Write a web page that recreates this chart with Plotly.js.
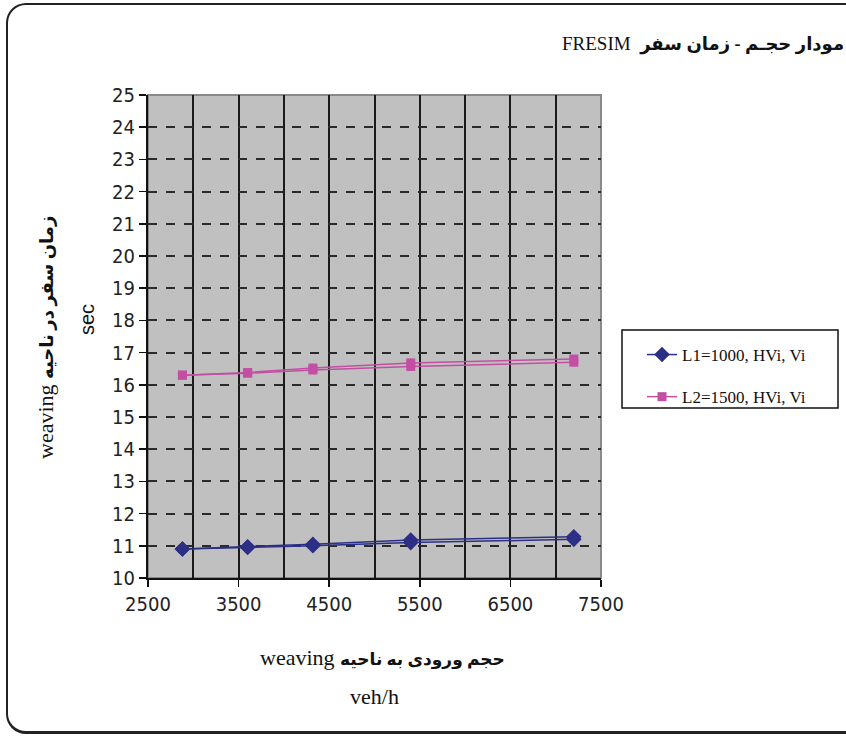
<!DOCTYPE html>
<html>
<head>
<meta charset="utf-8">
<script src="https://cdn.plot.ly/plotly-3.0.1.min.js"></script>
<style>
  html, body { margin: 0; padding: 0; background: #ffffff; overflow: hidden; }
  #wrap { position: relative; width: 846px; height: 740px; overflow: hidden; }
  #frame { position: absolute; left: 6px; top: 3px; width: 870px; height: 731px;
           border: 2px solid #222; border-bottom-width: 3px; border-radius: 20px; box-sizing: border-box; }
  #chart { position: absolute; left: 0; top: 0; width: 846px; height: 740px; }
</style>
</head>
<body>
<div id="wrap">
  <div id="frame"></div>
  <div id="chart"></div>
</div>
<script>
// ---- data ----
var volume = [2880, 3600, 4320, 5400, 7200];
var L1_runA = [10.90, 10.95, 11.00, 11.10, 11.20];
var L1_runB = [10.90, 10.97, 11.05, 11.18, 11.28];
var L2_runA = [16.30, 16.36, 16.46, 16.57, 16.70];
var L2_runB = [16.30, 16.38, 16.52, 16.68, 16.80];
var seriesNames = ["L1=1000, HVi, Vi", "L2=1500, HVi, Vi"];
var xTicks = [2500, 3500, 4500, 5500, 6500, 7500];
var yTicks = [10, 11, 12, 13, 14, 15, 16, 17, 18, 19, 20, 21, 22, 23, 24, 25];

var blue = "#2b2f86";
var pink = "#c24fa3";

var traces = [
  {x: volume, y: L1_runA, mode: "lines+markers", name: seriesNames[0], legendgroup: "a",
   line: {color: blue, width: 1.5}, marker: {symbol: "diamond", size: 12, color: blue}},
  {x: volume, y: L1_runB, mode: "lines+markers", name: seriesNames[0], legendgroup: "a", showlegend: false,
   line: {color: blue, width: 1.5}, marker: {symbol: "diamond", size: 12, color: blue}},
  {x: volume, y: L2_runA, mode: "lines+markers", name: seriesNames[1], legendgroup: "b",
   line: {color: pink, width: 1.5}, marker: {symbol: "square", size: 9, color: pink}},
  {x: volume, y: L2_runB, mode: "lines+markers", name: seriesNames[1], legendgroup: "b", showlegend: false,
   line: {color: pink, width: 1.5}, marker: {symbol: "square", size: 9, color: pink}}
];

var L = 148, R = 601, T = 95, B = 578, W = R - L, H = B - T;
function px(x) { return (x - L) / W; }
function py(y) { return (B - y) / H; }

var tickFont = {family: "'Liberation Sans Narrow', 'DejaVu Sans Condensed', Arial, sans-serif", size: 20, color: "#222"};
var serifAr = "'Liberation Serif', 'DejaVu Sans', serif";

var layout = {
  width: 846, height: 740,
  paper_bgcolor: "rgba(0,0,0,0)",
  plot_bgcolor: "#c0c0c0",
  margin: {l: L, r: 846 - R, t: T, b: 740 - B, pad: 0},
  showlegend: true,
  legend: {x: px(642), y: py(337), xanchor: "left", yanchor: "top",
           bgcolor: "rgba(0,0,0,0)", borderwidth: 0, tracegroupgap: 17, traceorder: "grouped",
           font: {family: "'Liberation Serif', serif", size: 17, color: "#111"}},
  xaxis: {range: [2500, 7500], tickvals: xTicks, ticktext: xTicks.map(String),
          showgrid: true, gridcolor: "#1a1a1a", gridwidth: 2,
          minor: {dtick: 500, tick0: 2500, showgrid: true, gridcolor: "#1a1a1a", gridwidth: 2, ticks: ""},
          showline: true, linecolor: "#111", linewidth: 2,
          ticks: "outside", ticklen: 7, tickwidth: 1.5, tickcolor: "#111",
          tickfont: tickFont, zeroline: false, fixedrange: true},
  yaxis: {range: [10, 25], tickvals: yTicks, ticktext: yTicks.map(String),
          showgrid: true, gridcolor: "#2a2a2a", gridwidth: 2, griddash: "dash",
          showline: true, linecolor: "#111", linewidth: 2,
          ticks: "outside", ticklen: 7, tickwidth: 1.5, tickcolor: "#111",
          tickfont: tickFont, zeroline: false, fixedrange: true},
  shapes: [
    {type: "rect", xref: "paper", yref: "paper", x0: 0, x1: 1, y0: 0, y1: 1,
     line: {color: "#8a8a8a", width: 2}, layer: "below"},
    {type: "rect", xref: "paper", yref: "paper", x0: px(622), x1: px(838), y0: py(408), y1: py(330),
     fillcolor: "#ffffff", line: {color: "#111", width: 1.5}, layer: "above"}
  ],
  annotations: [
    {xref: "paper", yref: "paper", x: px(846), y: py(44), xanchor: "right", yanchor: "middle", showarrow: false,
     text: "FRESIM  <b><span style='font-size:18px'>مودار حجـم - زمان سفر</span></b>", font: {family: serifAr, size: 19, color: "#111"}},
    {xref: "paper", yref: "paper", x: px(382), y: py(657), xanchor: "center", yanchor: "middle", showarrow: false,
     text: "weaving <b><span style='font-size:17px'>حجم ورودی به ناحیه</span></b>", font: {family: serifAr, size: 22, color: "#111"}},
    {xref: "paper", yref: "paper", x: px(374), y: py(696), xanchor: "center", yanchor: "middle", showarrow: false,
     text: "veh/h", font: {family: serifAr, size: 22, color: "#111"}},
    {xref: "paper", yref: "paper", x: px(45), y: py(338), xanchor: "center", yanchor: "middle", showarrow: false,
     textangle: -90, text: "weaving <b><span style='font-size:18px'>زمان سفر در ناحیه</span></b>", font: {family: serifAr, size: 22, color: "#111"}},
    {xref: "paper", yref: "paper", x: px(87), y: py(320), xanchor: "center", yanchor: "middle", showarrow: false,
     textangle: -90, text: "sec", font: {family: "'Liberation Sans', Arial, sans-serif", size: 20, color: "#111"}}
  ]
};

Plotly.newPlot("chart", traces, layout, {displayModeBar: false, staticPlot: true});
</script>
</body>
</html>
